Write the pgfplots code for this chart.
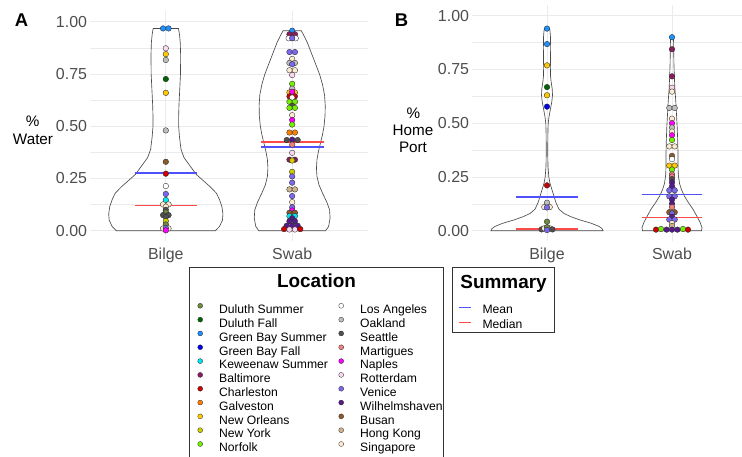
\documentclass[border=0pt]{standalone}
\usepackage{pgfplots}
\pgfplotsset{compat=1.18}
\usepackage{pgfplotstable}
\usepackage{fontspec}
\setmainfont{Liberation Sans}

\definecolor{cDS}{HTML}{6E8B3D}
\definecolor{cDF}{HTML}{006400}
\definecolor{cGS}{HTML}{1E90FF}
\definecolor{cGF}{HTML}{0000EE}
\definecolor{cKS}{HTML}{00E5EE}
\definecolor{cBA}{HTML}{8B1C62}
\definecolor{cCH}{HTML}{CD0000}
\definecolor{cGA}{HTML}{FF7F00}
\definecolor{cNO}{HTML}{FFC800}
\definecolor{cNY}{HTML}{CDCD00}
\definecolor{cNF}{HTML}{76EE00}
\definecolor{cLA}{HTML}{FFFFFF}
\definecolor{cOA}{HTML}{BEBEBE}
\definecolor{cSE}{HTML}{505050}
\definecolor{cMA}{HTML}{F08080}
\definecolor{cNA}{HTML}{FF00FF}
\definecolor{cRO}{HTML}{FBD8F2}
\definecolor{cVE}{HTML}{7B68EE}
\definecolor{cWI}{HTML}{551A8B}
\definecolor{cBU}{HTML}{8B5A2B}
\definecolor{cHK}{HTML}{D2B48C}
\definecolor{cSI}{HTML}{FDEBD0}
\definecolor{gridc}{HTML}{EBEBEB}
\definecolor{tickc}{HTML}{4D4D4D}
\definecolor{vioc}{HTML}{4A4A4A}
\definecolor{boxc}{HTML}{333333}
\definecolor{meanc}{HTML}{5050FF}
\definecolor{medc}{HTML}{FF4A4A}
\definecolor{ptd}{HTML}{2A2A2A}

% violin outlines: half width (px) vs value
\pgfplotstableread{
hw y
0 0
49 0
53 0.02
56 0.05
56.5 0.08
55.5 0.115
53 0.15
50 0.18
44 0.21
37 0.24
30 0.27
24 0.31
18 0.35
15 0.39
13.5 0.45
12.7 0.50
12.7 0.55
13 0.60
13.5 0.65
14 0.70
14.5 0.75
14.6 0.80
14.6 0.85
14.3 0.90
13.5 0.94
12.5 0.968
0 0.968
}\vioAB
\pgfplotstableread{
hw y
0 0
33 0
36 0.02
37.5 0.06
37 0.10
34 0.14
30 0.18
26.5 0.22
24.5 0.26
24 0.30
24.5 0.34
26 0.38
28 0.42
30 0.46
31.5 0.50
32.5 0.55
32.7 0.60
32 0.65
30 0.70
27 0.75
23 0.80
19 0.85
15 0.90
12 0.93
9 0.957
0 0.957
}\vioAS
\pgfplotstableread{
hw y
0 0
56 0
55 0.01
52 0.02
44 0.035
33 0.05
24 0.065
17 0.08
12 0.10
9 0.13
7 0.16
5 0.19
3 0.22
1.8 0.25
1 0.30
0.8 0.35
0.8 0.40
0.9 0.45
1.2 0.50
2 0.53
3.2 0.56
4.8 0.60
5.5 0.63
5.2 0.66
4.2 0.69
3.5 0.72
3.4 0.76
3.5 0.80
3.6 0.85
3.5 0.90
3 0.93
2.5 0.942
0 0.942
}\vioBB
\pgfplotstableread{
hw y
0 0
29.5 0
30 0.015
28 0.04
24.5 0.07
21 0.10
16.5 0.13
12.5 0.16
9.5 0.19
7.5 0.22
6.3 0.26
6 0.30
6 0.36
5.7 0.42
5.2 0.48
4.5 0.54
3.8 0.60
2.9 0.66
2.3 0.72
1.9 0.78
1.7 0.84
1.5 0.90
0 0.90
}\vioBS

% points: group, offset (px), value, location
\pgfplotstableread{
g dx y c
1 -2.7 0.968 GS
1 2.7 0.968 GS
1 0 0.873 RO
1 0 0.845 NO
1 0 0.817 OA
1 0 0.726 DF
1 0 0.660 NO
1 0 0.480 OA
1 0 0.330 BU
1 0 0.273 CH
1 0 0.214 LA
1 0 0.176 VE
1 0 0.147 KS
1 -2.7 0.126 SI
1 2.7 0.126 SI
1 0 0.115 SI
1 0 0.100 SE
1 0 0.088 DS
1 -2.7 0.075 SE
1 2.7 0.075 SE
1 0 0.066 SE
1 0 0.046 NY
1 0 0.030 DS
1 -2.7 0.011 SI
1 2.7 0.011 SI
1 0 0.013 VE
1 0 0.002 NA
2 0 0.957 GS
2 -2.7 0.940 BA
2 2.7 0.940 BA
2 -3.5 0.921 LA
2 3.5 0.921 LA
2 0 0.921 VE
2 -2.7 0.855 VE
2 2.7 0.855 VE
2 0 0.822 SI
2 -2.7 0.803 OA
2 2.7 0.803 OA
2 0 0.797 VE
2 -2.7 0.768 SI
2 2.7 0.768 SI
2 0 0.745 RO
2 0 0.703 NF
2 0 0.680 OA
2 -2.7 0.662 NO
2 2.7 0.662 NO
2 0 0.665 NA
2 -2.7 0.643 CH
2 2.7 0.643 CH
2 0 0.637 LA
2 -2.7 0.617 NF
2 2.7 0.617 NF
2 0 0.598 SE
2 -2.7 0.588 NF
2 2.7 0.588 NF
2 0 0.553 SI
2 0 0.530 NA
2 0 0.508 NF
2 -2.7 0.470 GA
2 2.7 0.470 GA
2 -5.4 0.434 SE
2 5.4 0.434 SE
2 0 0.436 WI
2 0 0.412 MA
2 0 0.373 RO
2 -2.7 0.340 BA
2 2.7 0.340 BA
2 0 0.336 NY
2 0 0.282 NY
2 0 0.260 VE
2 0 0.230 VE
2 -2.7 0.198 HK
2 2.7 0.198 HK
2 0 0.166 VE
2 0 0.137 SI
2 0 0.112 VE
2 0 0.097 NA
2 -2.7 0.086 BU
2 2.7 0.086 BU
2 -2.7 0.070 KS
2 2.7 0.070 KS
2 0 0.060 WI
2 -2.7 0.046 WI
2 2.7 0.046 WI
2 -5.4 0.024 WI
2 0 0.024 WI
2 5.4 0.024 WI
2 -8 0.008 CH
2 -2.7 0.006 RO
2 2.7 0.006 RO
2 8 0.008 CH
}\ptsA
\pgfplotstableread{
g dx y c
1 0 0.940 GS
1 0 0.868 GS
1 0 0.769 NO
1 0 0.668 DF
1 0 0.630 NO
1 0 0.577 GF
1 0 0.211 CH
1 0 0.130 OA
1 -2.7 0.110 SI
1 2.7 0.110 SI
1 0 0.108 VE
1 0 0.042 DS
1 -5.4 0.006 SE
1 -2.7 0.011 SI
1 2.7 0.011 SI
1 5.4 0.006 SE
1 0 0.016 DS
1 0 0.003 VE
2 0 0.900 GS
2 0 0.844 BA
2 0 0.718 BA
2 0 0.665 RO
2 0 0.647 SI
2 -2.7 0.571 OA
2 2.7 0.571 OA
2 0 0.521 SI
2 0 0.500 NA
2 0 0.480 OA
2 0 0.461 SI
2 0 0.444 NA
2 0 0.422 NF
2 -2.7 0.392 SI
2 2.7 0.392 SI
2 0 0.348 BU
2 0 0.333 LA
2 -2.7 0.303 NO
2 2.7 0.303 NO
2 0 0.284 NF
2 0 0.262 MA
2 0 0.252 MA
2 0 0.240 SE
2 0 0.225 WI
2 0 0.207 WI
2 -2.7 0.188 VE
2 2.7 0.188 VE
2 -2.7 0.160 VE
2 2.7 0.160 VE
2 0 0.145 WI
2 0 0.126 WI
2 0 0.110 MA
2 -2.7 0.086 BU
2 2.7 0.086 BU
2 0 0.080 VE
2 0 0.065 WI
2 -2.7 0.052 VE
2 2.7 0.052 VE
2 0 0.035 SI
2 0 0.022 HK
2 -16 0.005 CH
2 -11 0.008 NF
2 -5.4 0.005 WI
2 0 0.005 WI
2 5.4 0.005 WI
2 11 0.008 NF
2 16 0.005 CH
}\ptsB

\pgfplotsset{
  panel/.style={
    scale only axis, anchor=south west,
    xmin=0.4, xmax=2.6, ymin=-0.05, ymax=1.05,
    xtick={1,2}, xticklabels={Bilge,Swab},
    ytick={0,0.25,0.5,0.75,1}, yticklabels={0.00,0.25,0.50,0.75,1.00},
    minor ytick={0.125,0.375,0.625,0.875},
    grid=both,
    major grid style={color=gridc, line width=0.9bp},
    minor grid style={color=gridc, line width=0.45bp},
    axis line style={draw=none},
    major tick length=0pt, minor tick length=0pt,
    tick label style={font=\fontsize{16}{19}\selectfont, text=tickc, inner sep=0pt},
    yticklabel style={anchor=east, xshift=-2.8bp},
    xticklabel style={anchor=base, yshift=-18bp},
    clip=false,
  },
  pts/.style={scatter, only marks, scatter src=explicit symbolic, mark size=2.8bp,
    scatter/classes={
      DS={mark=*,draw=ptd,fill=cDS,line width=0.35bp},
      DF={mark=*,draw=ptd,fill=cDF,line width=0.35bp},
      GS={mark=*,draw=ptd,fill=cGS,line width=0.35bp},
      GF={mark=*,draw=ptd,fill=cGF,line width=0.35bp},
      KS={mark=*,draw=ptd,fill=cKS,line width=0.35bp},
      BA={mark=*,draw=ptd,fill=cBA,line width=0.35bp},
      CH={mark=*,draw=ptd,fill=cCH,line width=0.35bp},
      GA={mark=*,draw=ptd,fill=cGA,line width=0.35bp},
      NO={mark=*,draw=ptd,fill=cNO,line width=0.35bp},
      NY={mark=*,draw=ptd,fill=cNY,line width=0.35bp},
      NF={mark=*,draw=ptd,fill=cNF,line width=0.35bp},
      LA={mark=*,draw=ptd,fill=cLA,line width=0.35bp},
      OA={mark=*,draw=ptd,fill=cOA,line width=0.35bp},
      SE={mark=*,draw=ptd,fill=cSE,line width=0.35bp},
      MA={mark=*,draw=ptd,fill=cMA,line width=0.35bp},
      NA={mark=*,draw=ptd,fill=cNA,line width=0.35bp},
      RO={mark=*,draw=ptd,fill=cRO,line width=0.35bp},
      VE={mark=*,draw=ptd,fill=cVE,line width=0.35bp},
      WI={mark=*,draw=ptd,fill=cWI,line width=0.35bp},
      BU={mark=*,draw=ptd,fill=cBU,line width=0.35bp},
      HK={mark=*,draw=ptd,fill=cHK,line width=0.35bp},
      SI={mark=*,draw=ptd,fill=cSI,line width=0.35bp}}},
  vio/.style={vioc, line width=0.65bp, no marks},
  stat/.style={color=#1, line width=1.6bp, no marks},
  lgm/.style={only marks, mark=*, mark size=2.5bp, mark options={fill=#1, draw=ptd, line width=0.3bp}},
  lghide/.style={hide axis, scale only axis, width=10bp, height=10bp, anchor=north west,
    xmin=0, xmax=1, ymin=0, ymax=1,
    legend cell align=left,
    legend style={at={(0,1)}, anchor=north west, draw=none, fill=none, inner sep=0pt, outer sep=0pt,
      font=\fontsize{12.2}{14}\selectfont, row sep=0.52bp,
      nodes={inner sep=0pt, outer sep=0pt, text height=9bp, text depth=3bp},
      /tikz/every odd column/.append style={column sep=16.2bp}},
    legend image code/.code={\path (0bp,0bp) (5.2bp,0bp); \draw[##1] plot coordinates {(2.6bp,4.8bp)};}},
  lgline/.style={legend image code/.code={\path (0bp,-4bp) (0bp,6bp); \draw[##1] (0bp,2.4bp) -- (11.8bp,2.4bp);}},
}

\begin{document}
\begin{tikzpicture}
\useasboundingbox (0,0) rectangle (742bp,-457bp);

% ---- Panel A ----
\begin{axis}[panel, at={(90bp,-241.2bp)}, width=278bp, height=229.9bp]
\addplot[vio] table[x expr=1-\thisrow{hw}/125, y=y] {\vioAB};
\addplot[vio] table[x expr=1+\thisrow{hw}/125, y=y] {\vioAB};
\addplot[vio] table[x expr=2-\thisrow{hw}/125, y=y] {\vioAS};
\addplot[vio] table[x expr=2+\thisrow{hw}/125, y=y] {\vioAS};
\addplot[stat=meanc] coordinates {(0.754,0.275) (1.246,0.275)};
\addplot[stat=medc] coordinates {(0.754,0.120) (1.246,0.120)};
\addplot[stat=medc] coordinates {(1.752,0.426) (2.248,0.426)};
\addplot[stat=meanc] coordinates {(1.752,0.402) (2.248,0.402)};
\addplot[pts] table[x expr=\thisrow{g}+\thisrow{dx}/125, y=y, meta=c] {\ptsA};
\end{axis}

% ---- Panel B ----
\begin{axis}[panel, at={(472bp,-241.45bp)}, width=275bp, height=236.5bp]
\addplot[vio] table[x expr=1-\thisrow{hw}/125, y=y] {\vioBB};
\addplot[vio] table[x expr=1+\thisrow{hw}/125, y=y] {\vioBB};
\addplot[vio] table[x expr=2-\thisrow{hw}/125, y=y] {\vioBS};
\addplot[vio] table[x expr=2+\thisrow{hw}/125, y=y] {\vioBS};
\addplot[stat=meanc] coordinates {(0.752,0.158) (1.248,0.158)};
\addplot[stat=medc] coordinates {(0.752,0.009) (1.248,0.009)};
\addplot[stat=medc] coordinates {(1.758,0.062) (2.242,0.062)};
\addplot[stat=meanc] coordinates {(1.758,0.169) (2.242,0.169)};
\addplot[pts] table[x expr=\thisrow{g}+\thisrow{dx}/125, y=y, meta=c] {\ptsB};
\end{axis}

% ---- Location legend, column 1 ----
\begin{axis}[lghide, at={(197.4bp,-303.3bp)}]
\addplot[draw=none, forget plot] coordinates {(0,0)};
\addlegendimage{lgm=cDS}\addlegendentry{Duluth Summer}
\addlegendimage{lgm=cDF}\addlegendentry{Duluth Fall}
\addlegendimage{lgm=cGS}\addlegendentry{Green Bay Summer}
\addlegendimage{lgm=cGF}\addlegendentry{Green Bay Fall}
\addlegendimage{lgm=cKS}\addlegendentry{Keweenaw Summer}
\addlegendimage{lgm=cBA}\addlegendentry{Baltimore}
\addlegendimage{lgm=cCH}\addlegendentry{Charleston}
\addlegendimage{lgm=cGA}\addlegendentry{Galveston}
\addlegendimage{lgm=cNO}\addlegendentry{New Orleans}
\addlegendimage{lgm=cNY}\addlegendentry{New York}
\addlegendimage{lgm=cNF}\addlegendentry{Norfolk}
\end{axis}
% ---- Location legend, column 2 ----
\begin{axis}[lghide, at={(338.4bp,-303.3bp)}]
\addplot[draw=none, forget plot] coordinates {(0,0)};
\addlegendimage{lgm=cLA}\addlegendentry{Los Angeles}
\addlegendimage{lgm=cOA}\addlegendentry{Oakland}
\addlegendimage{lgm=cSE}\addlegendentry{Seattle}
\addlegendimage{lgm=cMA}\addlegendentry{Martigues}
\addlegendimage{lgm=cNA}\addlegendentry{Naples}
\addlegendimage{lgm=cRO}\addlegendentry{Rotterdam}
\addlegendimage{lgm=cVE}\addlegendentry{Venice}
\addlegendimage{lgm=cWI}\addlegendentry{Wilhelmshaven}
\addlegendimage{lgm=cBU}\addlegendentry{Busan}
\addlegendimage{lgm=cHK}\addlegendentry{Hong Kong}
\addlegendimage{lgm=cSI}\addlegendentry{Singapore}
\end{axis}
% ---- Summary legend ----
\begin{axis}[lghide, lgline, at={(458.3bp,-303.7bp)},
  legend style={row sep=2.2bp, /tikz/every odd column/.append style={column sep=11.4bp}}]
\addplot[draw=none, forget plot] coordinates {(0,0)};
\addlegendimage{color=meanc, line width=1.1bp}\addlegendentry{Mean}
\addlegendimage{color=medc, line width=1.1bp}\addlegendentry{Median}
\end{axis}

% boxes and titles
\draw[boxc, line width=0.8bp] (189.3bp,-470bp) -- (189.3bp,-267.3bp) -- (443.3bp,-267.3bp) -- (443.3bp,-470bp);
\draw[boxc, line width=0.8bp] (452.7bp,-267.3bp) rectangle (554.3bp,-332.3bp);
\node[anchor=base, inner sep=0pt, font=\fontsize{19}{22}\selectfont\bfseries] at (316.5bp,-287.3bp) {Location};
\node[anchor=base, inner sep=0pt, font=\fontsize{19}{22}\selectfont\bfseries] at (503.6bp,-288bp) {Summary};
\node[anchor=base, inner sep=0pt, font=\fontsize{18.5}{22}\selectfont\bfseries] at (21.5bp,-26.3bp) {A};
\node[anchor=base, inner sep=0pt, font=\fontsize{18.5}{22}\selectfont\bfseries] at (401.5bp,-26.3bp) {B};
\node[anchor=base, inner sep=0pt, font=\fontsize{15.3}{18}\selectfont] at (32.7bp,-126.7bp) {\%};
\node[anchor=base, inner sep=0pt, font=\fontsize{15.3}{18}\selectfont] at (33bp,-144bp) {Water};
\node[anchor=base, inner sep=0pt, font=\fontsize{15.3}{18}\selectfont] at (413.3bp,-118.3bp) {\%};
\node[anchor=base, inner sep=0pt, font=\fontsize{15.3}{18}\selectfont] at (413bp,-135bp) {Home};
\node[anchor=base, inner sep=0pt, font=\fontsize{15.3}{18}\selectfont] at (413bp,-152.7bp) {Port};
\end{tikzpicture}
\end{document}
